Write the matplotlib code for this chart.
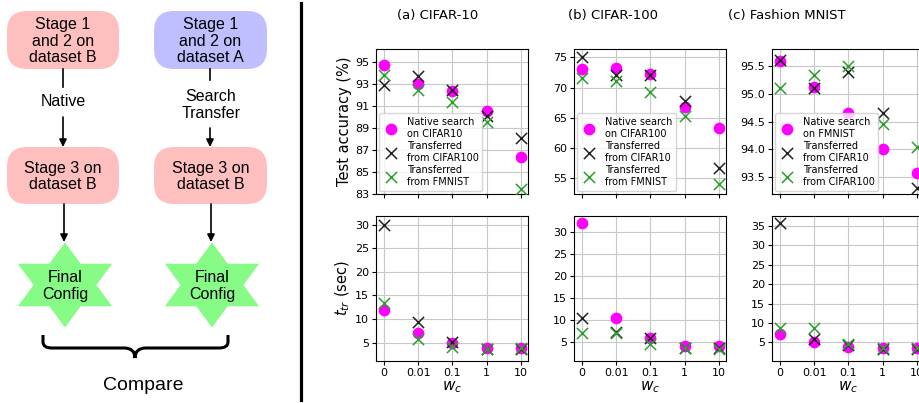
import numpy as np
import matplotlib
matplotlib.use('Agg')
from matplotlib import pyplot as plt
from matplotlib.patches import FancyBboxPatch, Polygon, PathPatch
from matplotlib.path import Path
from matplotlib.lines import Line2D

W, H = 920, 403

# valeurs
wc = [0, 0.01, 0.1, 1, 10]
wc_labels = ['0', '0.01', '0.1', '1', '10']

acc_c10_native = [94.7, 93.05, 92.35, 90.6, 86.35]
acc_c10_from_c100 = [92.9, 93.75, 92.45, 90.1, 88.1]
acc_c10_from_fm = [93.85, 92.5, 91.35, 89.6, 83.5]
ttr_c10_native = [11.8, 7.0, 5.0, 3.8, 3.8]
ttr_c10_from_c100 = [30.0, 9.3, 5.2, 3.7, 3.6]
ttr_c10_from_fm = [13.4, 5.7, 4.1, 3.6, 3.9]

acc_c100_native = [73.0, 73.2, 72.2, 66.8, 63.2]
acc_c100_from_c10 = [75.0, 72.0, 72.0, 67.7, 56.6]
acc_c100_from_fm = [71.5, 71.1, 69.2, 65.2, 54.0]
ttr_c100_native = [32.0, 10.3, 5.8, 4.1, 4.0]
ttr_c100_from_c10 = [10.3, 7.3, 5.8, 3.6, 3.5]
ttr_c100_from_fm = [7.0, 6.9, 4.4, 3.5, 3.4]

acc_fm_native = [95.58, 95.12, 94.65, 94.0, 93.58]
acc_fm_from_c10 = [95.6, 95.1, 95.38, 94.66, 93.3]
acc_fm_from_c100 = [95.1, 95.33, 95.5, 94.45, 94.05]
ttr_fm_native = [7.1, 5.2, 3.9, 3.5, 3.5]
ttr_fm_from_c10 = [35.7, 5.8, 4.3, 3.4, 3.3]
ttr_fm_from_c100 = [8.6, 8.6, 4.5, 3.5, 3.5]

titles = ['(a) CIFAR-10', '(b) CIFAR-100', '(c) Fashion MNIST']
legend_labels = [
    ['Native search\non CIFAR10', 'Transferred\nfrom CIFAR100', 'Transferred\nfrom FMNIST'],
    ['Native search\non CIFAR100', 'Transferred\nfrom CIFAR10', 'Transferred\nfrom FMNIST'],
    ['Native search\non FMNIST', 'Transferred\nfrom CIFAR10', 'Transferred\nfrom CIFAR100'],
]
acc_data = [
    (acc_c10_native, acc_c10_from_c100, acc_c10_from_fm),
    (acc_c100_native, acc_c100_from_c10, acc_c100_from_fm),
    (acc_fm_native, acc_fm_from_c10, acc_fm_from_c100),
]
ttr_data = [
    (ttr_c10_native, ttr_c10_from_c100, ttr_c10_from_fm),
    (ttr_c100_native, ttr_c100_from_c10, ttr_c100_from_fm),
    (ttr_fm_native, ttr_fm_from_c10, ttr_fm_from_c100),
]
acc_ylim = [(83, 96.2), (52.3, 76.4), (93.2, 95.8)]
acc_ticks = [np.arange(83, 96, 2), np.arange(55, 76, 5), np.arange(93.5, 95.6, 0.5)]
ttr_ylim = [(1.1, 31.8), (0.6, 33.6), (0.2, 37.6)]
ttr_ticks = [np.arange(5, 31, 5), np.arange(5, 31, 5), np.arange(5, 36, 5)]

fig = plt.figure(figsize=(W / 100, H / 100), dpi=100)


def px_axes(left, top, right, bottom):
    return fig.add_axes([left / W, 1 - bottom / H, (right - left) / W, (bottom - top) / H])


def draw_panel(ax, series, labels, ylim, yticks, show_xlabels):
    ax.set_xscale('symlog', linthresh=0.01, linscale=0.9)
    native, tr1, tr2 = series
    ax.scatter(wc, native, s=55, color='#ff00ff', label=labels[0], zorder=3)
    ax.scatter(wc, tr1, s=65, marker='x', color='#222222', linewidths=1.1, label=labels[1], zorder=3)
    ax.scatter(wc, tr2, s=65, marker='x', color='#2ca02c', linewidths=1.1, label=labels[2], zorder=3)
    ax.set_xlim(-0.0023, 16)
    ax.set_ylim(*ylim)
    ax.set_xticks(wc)
    ax.set_yticks(yticks)
    if show_xlabels:
        ax.set_xticklabels(wc_labels)
        ax.set_xlabel('$w_c$', fontsize=11, labelpad=1)
    else:
        ax.set_xticklabels([])
    ax.tick_params(labelsize=8, length=3, pad=2)
    ax.tick_params(which='minor', length=1.5)
    ax.grid(True, which='major', color='#c8c8c8', lw=0.8)
    ax.set_axisbelow(True)


lefts = [376, 574, 772]
for i in range(3):
    L = lefts[i]
    ax_top = px_axes(L, 49, L + 152, 194)
    draw_panel(ax_top, acc_data[i], legend_labels[i], acc_ylim[i], acc_ticks[i], False)
    ax_top.legend(loc='lower left', fontsize=7, borderpad=0.4, labelspacing=0.25,
                  handletextpad=0.8, borderaxespad=0.35, handlelength=1.6)
    if i == 2:
        ax_top.yaxis.set_major_formatter(matplotlib.ticker.FormatStrFormatter('%.1f'))
    ax_bot = px_axes(L, 216, L + 152, 361)
    draw_panel(ax_bot, ttr_data[i], legend_labels[i], ttr_ylim[i], ttr_ticks[i], True)
    if i == 0:
        ax_top.set_ylabel('Test accuracy (%)', fontsize=10.5, labelpad=2)
        ax_bot.set_ylabel('$t_{tr}$ (sec)', fontsize=10.5, labelpad=2)

for x, t in zip([438, 613, 787], titles):
    fig.text(x / W, 1 - 15 / H, t, ha='center', va='center', fontsize=9.5)

# séparateur vertical
fig.add_artist(Line2D([301 / W, 301 / W], [1 - 3 / H, 1 - 400 / H], lw=2.3, color='k'))

# schéma à gauche, en coordonnées pixels
fa = fig.add_axes([0, 0, 300 / W, 1])
fa.set_xlim(0, 300)
fa.set_ylim(H, 0)
fa.axis('off')

ff = 'Liberation Sans'
pink, blue, green = '#ffbfbf', '#bfbfff', '#86fb86'

boxes = [
    (7, 11, 112, 58, pink, 'Stage 1\nand 2 on\ndataset B'),
    (154, 11, 113, 58, blue, 'Stage 1\nand 2 on\ndataset A'),
    (7, 147, 112, 57, pink, 'Stage 3 on\ndataset B'),
    (154, 147, 113, 57, pink, 'Stage 3 on\ndataset B'),
]
for x, y, w, h, c, txt in boxes:
    fa.add_patch(FancyBboxPatch((x, y), w, h, boxstyle='round,pad=0,rounding_size=20',
                                fc=c, ec='none'))
    fa.text(x + w / 2, y + h / 2 + 1, txt, ha='center', va='center', fontsize=11.5,
            family=ff, linespacing=1.15)


def star(cx, cy, R=42.5, sx=1.28):
    pts = []
    for k in range(12):
        ang = np.pi / 2 + k * np.pi / 6
        r = R if k % 2 == 0 else R / np.sqrt(3)
        pts.append((cx + sx * r * np.cos(ang), cy - r * np.sin(ang)))
    return Polygon(pts, closed=True, fc=green, ec='none')


for cx in [65, 212]:
    fa.add_patch(star(cx, 285))
    fa.text(cx, 286, 'Final\nConfig', ha='center', va='center', fontsize=11.5,
            family=ff, linespacing=1.15)

arrow_kw = dict(arrowstyle='-|>', color='k', lw=1.2, mutation_scale=11, shrinkA=0, shrinkB=0)
# colonne gauche
fa.plot([63, 63], [69, 87], color='k', lw=1.2)
fa.text(63, 102, 'Native', ha='center', va='center', fontsize=11.5, family=ff)
fa.annotate('', xy=(63, 147), xytext=(63, 117), arrowprops=arrow_kw)
fa.annotate('', xy=(64, 242), xytext=(64, 204), arrowprops=arrow_kw)
# colonne droite
fa.plot([210, 210], [69, 80], color='k', lw=1.2)
fa.text(211, 105, 'Search\nTransfer', ha='center', va='center', fontsize=11.5,
        family=ff, linespacing=1.1)
fa.annotate('', xy=(210, 147), xytext=(210, 128), arrowprops=arrow_kw)
fa.annotate('', xy=(211, 242), xytext=(211, 204), arrowprops=arrow_kw)

# accolade : chaque CURVE3 prend un point de contrôle puis un point final
verts = [(43, 335), (43, 342), (43, 348), (52, 348), (124, 348),
         (135, 348), (135, 358), (135, 348), (146, 348),
         (219, 348), (228, 348), (228, 342), (228, 335)]
codes = [Path.MOVETO, Path.LINETO, Path.CURVE3, Path.CURVE3, Path.LINETO,
         Path.CURVE3, Path.CURVE3, Path.CURVE3, Path.CURVE3,
         Path.LINETO, Path.CURVE3, Path.CURVE3, Path.LINETO]
fa.add_patch(PathPatch(Path(verts, codes), fc='none', ec='k', lw=2.2, capstyle='butt'))
fa.text(143, 385, 'Compare', ha='center', va='center', fontsize=14, family=ff)

fig.savefig('out.png', dpi=100)
